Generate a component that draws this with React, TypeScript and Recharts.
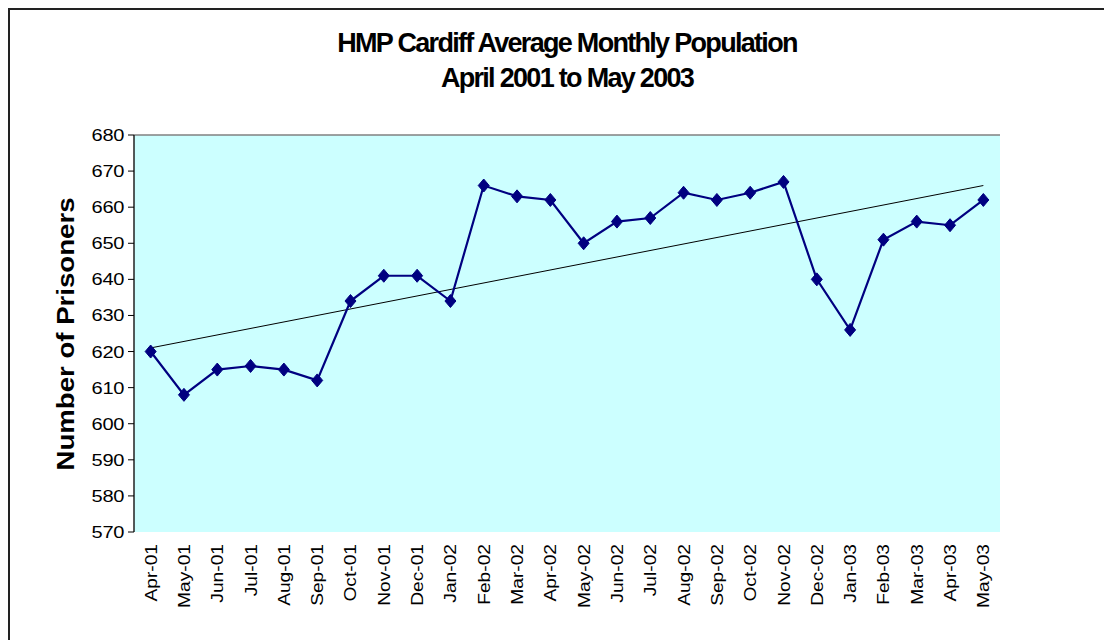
import { LineChart, Line, XAxis, YAxis, CartesianGrid, ReferenceLine } from 'recharts';

const months = [
    'Apr-01', 'May-01', 'Jun-01', 'Jul-01', 'Aug-01', 'Sep-01', 'Oct-01', 'Nov-01', 'Dec-01',
    'Jan-02', 'Feb-02', 'Mar-02', 'Apr-02', 'May-02', 'Jun-02', 'Jul-02', 'Aug-02', 'Sep-02',
    'Oct-02', 'Nov-02', 'Dec-02', 'Jan-03', 'Feb-03', 'Mar-03', 'Apr-03', 'May-03',
];
const population = [
    620, 608, 615, 616, 615, 612, 634, 641, 641,
    634, 666, 663, 662, 650, 656, 657, 664, 662,
    664, 667, 640, 626, 651, 656, 655, 662,
];
const trendStart = 621;
const trendEnd = 666;
const yTicks = [570, 580, 590, 600, 610, 620, 630, 640, 650, 660, 670, 680];
const boundaryTicks = months.map((_, i) => i).concat([months.length]);

const data = months.map((m, i) => ({ month: m, value: population[i] }));

const FONT = '"Liberation Sans", Arial, sans-serif';

function Diamond(props: any) {
    const { cx, cy, index } = props;
    if (cx == null || cy == null) return <g key={index} />;
    return (
        <polygon
            key={index}
            points={`${cx},${cy - 6.5} ${cx + 5.5},${cy} ${cx},${cy + 6.5} ${cx - 5.5},${cy}`}
            fill="#000080"
            stroke="#000080"
        />
    );
}

// labels in the original are drawn wide, so stretch them along the text direction
function MonthTick(props: any) {
    const { x, y, payload } = props;
    return (
        <text
            transform={`translate(${x + 6}, ${y + 4}) rotate(-90) scale(1.2, 1)`}
            textAnchor="end"
            fontFamily={FONT}
            fontSize={16}
            fill="#000"
        >
            {payload.value}
        </text>
    );
}

function ValueTick(props: any) {
    const { x, y, payload } = props;
    return (
        <text
            transform={`translate(${x}, ${y + 6}) scale(1.18, 1)`}
            textAnchor="end"
            fontFamily={FONT}
            fontSize={17}
            letterSpacing={-0.3}
            fill="#000"
        >
            {payload.value}
        </text>
    );
}

export default function App() {
    return (
        <div style={{ position: 'relative', width: 1104, height: 632, fontFamily: FONT, overflow: 'hidden' }}>
            <LineChart
                width={1104}
                height={632}
                data={data}
                margin={{ top: 127, right: 112, left: 0, bottom: 0 }}
            >
                <CartesianGrid fill="#CCFFFF" horizontal={false} vertical={false} />
                <XAxis
                    xAxisId="grid"
                    type="number"
                    domain={[0, months.length]}
                    ticks={boundaryTicks}
                    allowDataOverflow
                    tick={false}
                    tickSize={6}
                    height={0}
                    axisLine={{ stroke: '#000', strokeWidth: 1.5 }}
                    tickLine={{ stroke: '#000' }}
                />
                <XAxis
                    xAxisId="cat"
                    dataKey="month"
                    interval={0}
                    padding={{ left: 16.65, right: 16.65 }}
                    height={108}
                    axisLine={false}
                    tickLine={false}
                    tick={<MonthTick />}
                />
                <YAxis
                    domain={[570, 680]}
                    ticks={yTicks}
                    interval={0}
                    width={126}
                    allowDataOverflow
                    axisLine={{ stroke: '#222', strokeWidth: 1.5 }}
                    tickLine={{ stroke: '#000' }}
                    tickSize={6}
                    tickMargin={4}
                    tick={<ValueTick />}
                />
                <ReferenceLine y={680} xAxisId="cat" stroke="#808080" strokeWidth={1.5} />
                <ReferenceLine x={months.length} xAxisId="grid" stroke="#808080" strokeWidth={1.5} />
                <ReferenceLine
                    xAxisId="cat"
                    segment={[{ x: months[0], y: trendStart }, { x: months[months.length - 1], y: trendEnd }]}
                    stroke="#000"
                    strokeWidth={1}
                    ifOverflow="visible"
                />
                <Line
                    xAxisId="cat"
                    dataKey="value"
                    stroke="#000080"
                    strokeWidth={2.2}
                    dot={(p: any) => <Diamond key={p.index} {...p} />}
                    activeDot={false}
                    isAnimationActive={false}
                />
            </LineChart>
            <div style={{ position: 'absolute', left: 0, top: 0, width: 1104, height: 632, borderTop: '2px solid #222', borderLeft: '2px solid #222', boxSizing: 'border-box', pointerEvents: 'none' }} />
            <div style={{ position: 'absolute', left: 126, width: 866, top: 18, textAlign: 'center', fontWeight: 'bold', fontSize: 27, letterSpacing: -1.7, lineHeight: '35px', color: '#000' }}>
                HMP Cardiff Average Monthly Population
                <br />
                April 2001 to May 2003
            </div>
            <div style={{ position: 'absolute', left: 58, top: 326, width: 0, height: 0 }}>
                <div style={{ position: 'absolute', transform: 'translate(-50%, -50%) rotate(-90deg) scale(1.15, 1)', whiteSpace: 'nowrap', fontWeight: 'bold', fontSize: 24, color: '#000' }}>
                    Number of Prisoners
                </div>
            </div>
        </div>
    );
}
